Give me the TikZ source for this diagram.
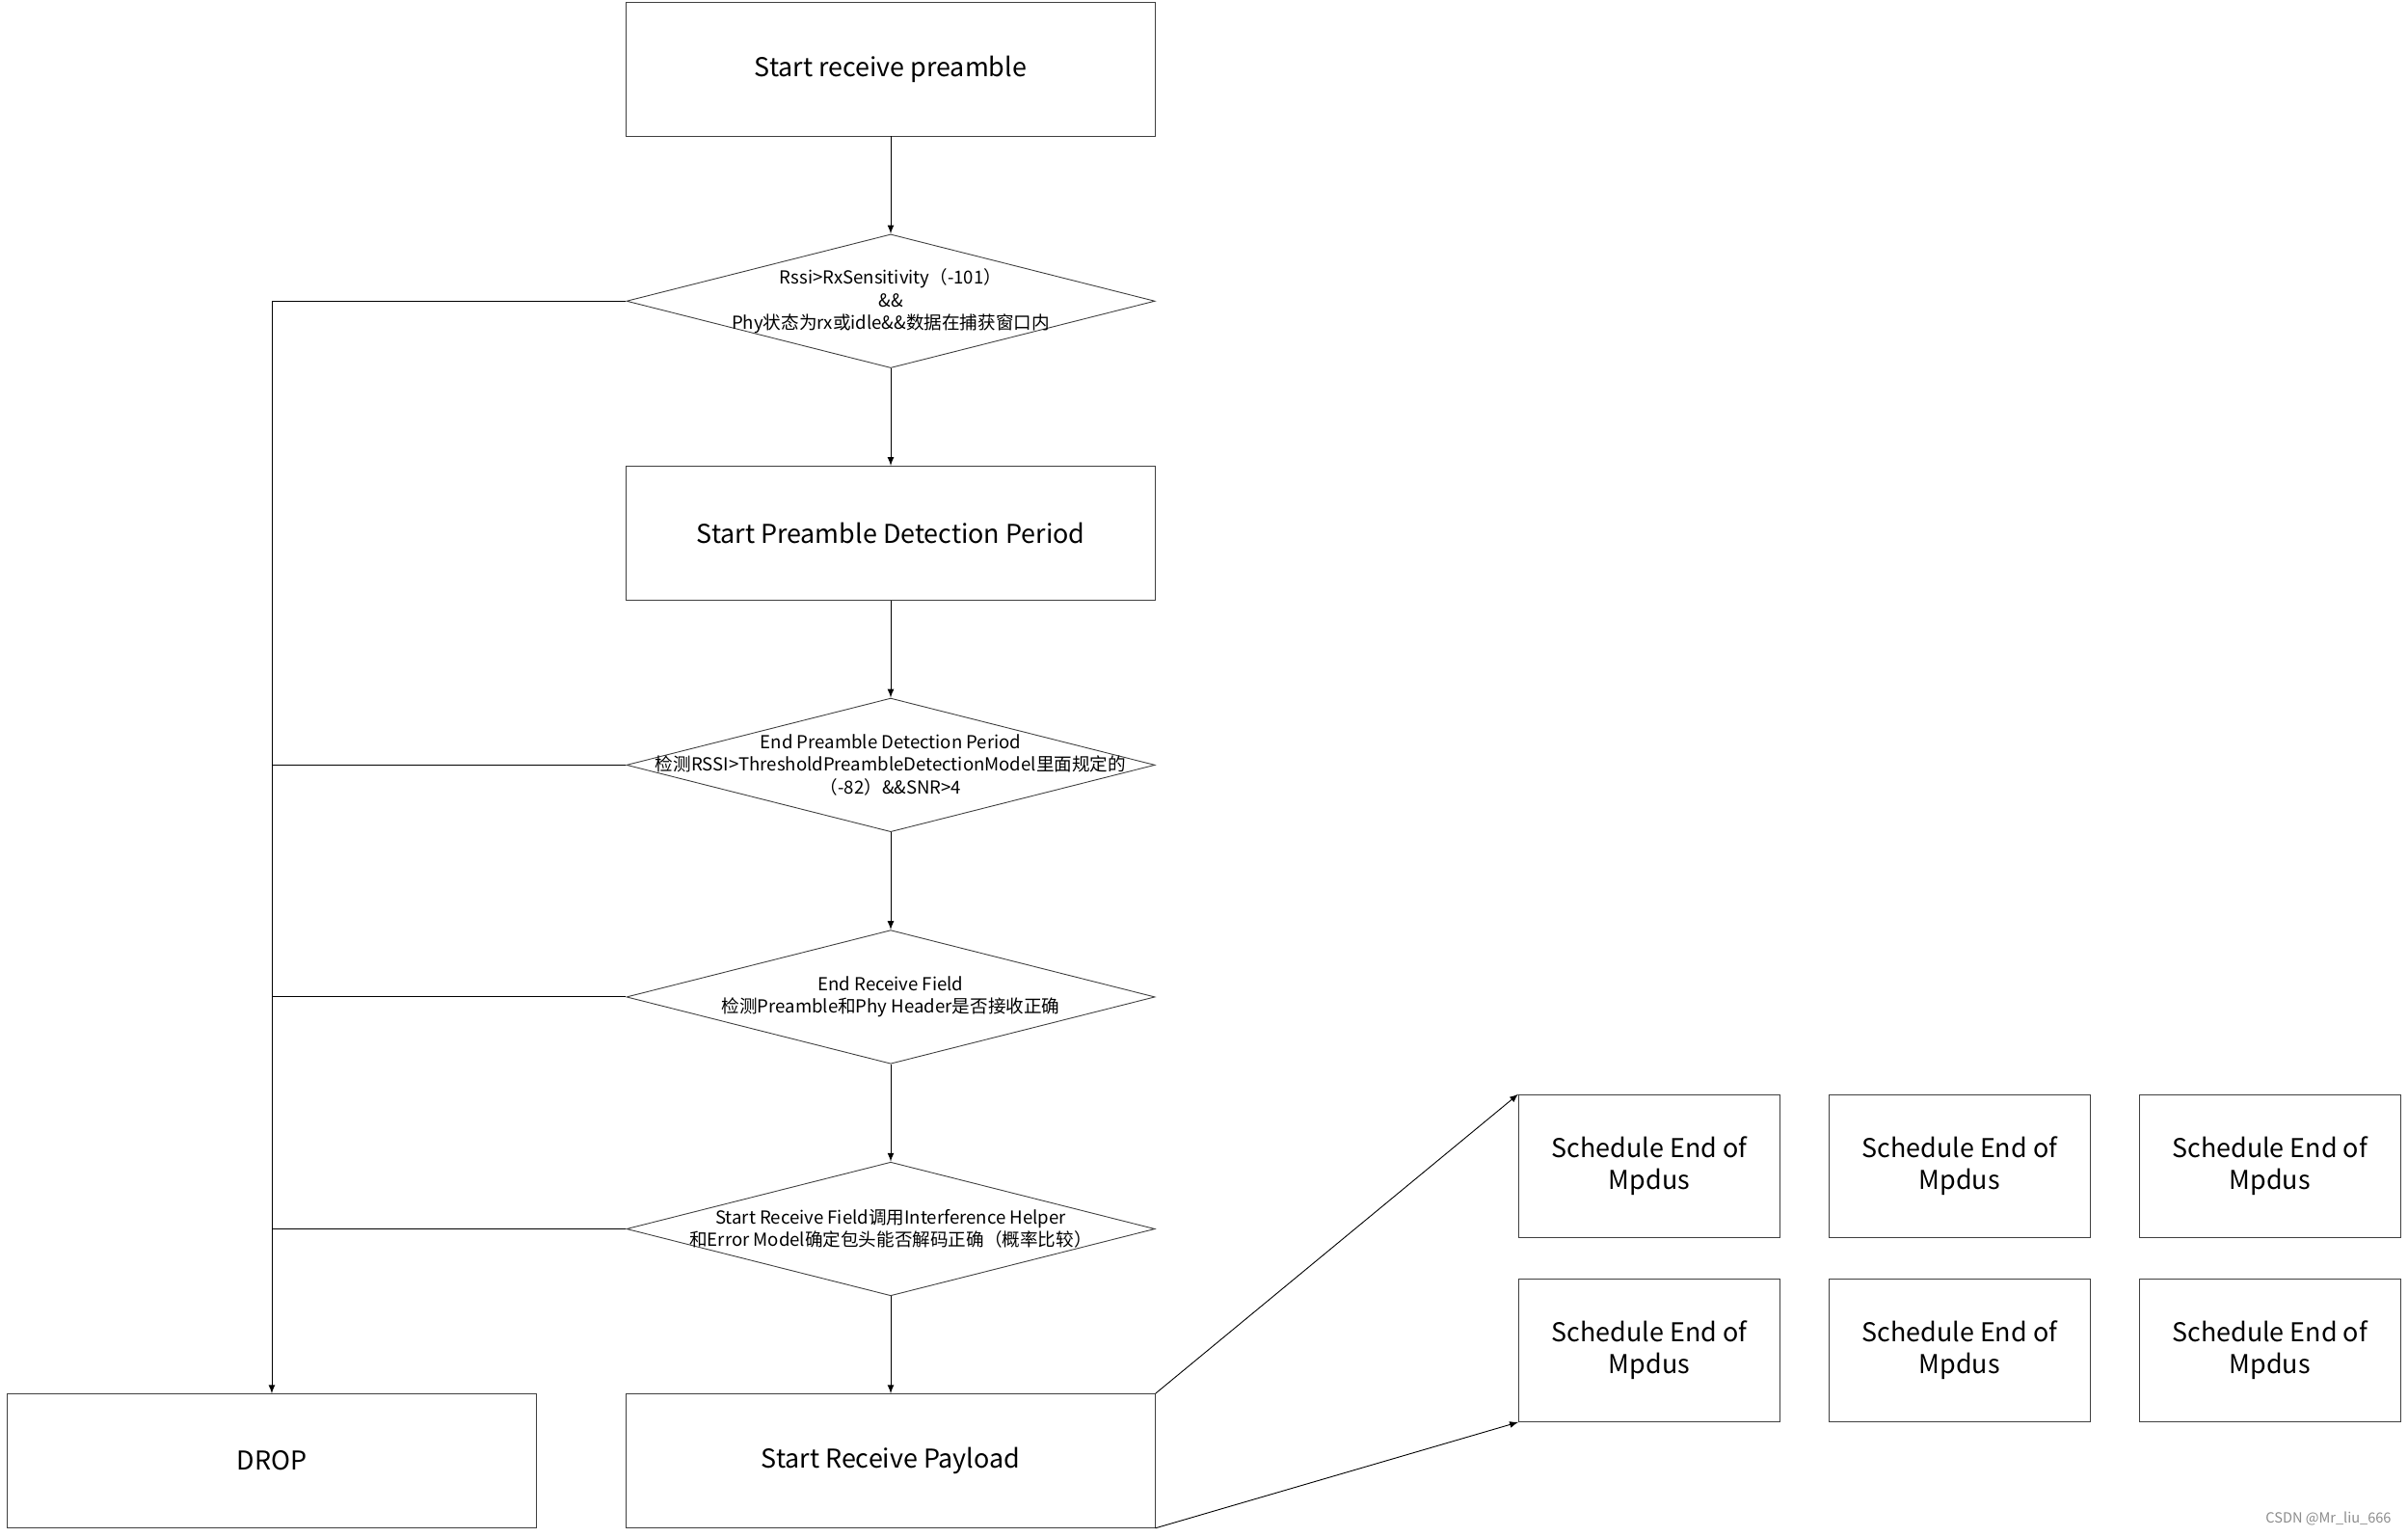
\documentclass[tikz,border=0pt]{standalone}
\usepackage{fontspec}
\setmainfont{Noto Sans CJK SC}
\usepackage{tikz}
\usetikzlibrary{shapes.geometric}
\tikzstyle{process}  = [rectangle,draw=black!75,minimum width=8.6cm,minimum height=2.175cm,font=\fontsize{12}{14}\selectfont]
\tikzstyle{decision} = [diamond,draw=black!75,minimum width=8.6cm,minimum height=2.175cm,inner sep=0]
\tikzstyle{dtext}    = [align=center,font=\fontsize{8.3}{10.5}\selectfont]
\tikzstyle{mpdu}     = [rectangle,draw=black!75,minimum width=4.25cm,minimum height=2.325cm,align=center,font=\fontsize{12}{15}\selectfont]
\tikzstyle{flow}     = [draw=black,-latex]

\begin{document}
\begin{tikzpicture}[x=0.025cm,y=-0.025cm]
    \useasboundingbox (0,0) rectangle (1568,1000);

    % main column
    \node(start)[process] at (580,45) {Start receive preamble};
    \node(d1)[decision] at (580,196) {};
    \node[dtext] at (d1) {Rssi>RxSensitivity（-101）\\\&\&\\Phy状态为rx或idle\&\&数据在捕获窗口内};
    \node(detect)[process] at (580,347) {Start Preamble Detection Period};
    \node(d2)[decision] at (580,498) {};
    \node[dtext] at (d2) {End Preamble Detection Period\\检测RSSI>ThresholdPreambleDetectionModel里面规定的\\（-82）\&\&SNR>4};
    \node(d3)[decision] at (580,649) {};
    \node[dtext] at (d3) {End Receive Field\\检测Preamble和Phy Header是否接收正确};
    \node(d4)[decision] at (580,800) {};
    \node[dtext] at (d4) {Start Receive Field调用Interference Helper\\和Error Model确定包头能否解码正确（概率比较）};
    \node(payload)[process] at (580,951) {Start Receive Payload};
    \node(drop)[process] at (177,951) {DROP};

    % Mpdus
    \node(m11)[mpdu] at (1074,759) {Schedule End of\\Mpdus};
    \node(m12)[mpdu] at (1276,759) {Schedule End of\\Mpdus};
    \node(m13)[mpdu] at (1478,759) {Schedule End of\\Mpdus};
    \node(m21)[mpdu] at (1074,879) {Schedule End of\\Mpdus};
    \node(m22)[mpdu] at (1276,879) {Schedule End of\\Mpdus};
    \node(m23)[mpdu] at (1478,879) {Schedule End of\\Mpdus};

    % connectors
    \draw[flow] (start) -- (d1);
    \draw[flow] (d1) -- (detect);
    \draw[flow] (detect) -- (d2);
    \draw[flow] (d2) -- (d3);
    \draw[flow] (d3) -- (d4);
    \draw[flow] (d4) -- (payload);
    \draw[flow] (d1.west) -| (drop.north);
    \draw (d2.west) -- (177,498);
    \draw (d3.west) -- (177,649);
    \draw (d4.west) -- (177,800);
    \draw[flow] (payload.north east) -- (m11.north west);
    \draw[flow] (payload.south east) -- (m21.south west);

    \node(mark)[anchor=south east,text=black!45,font=\fontsize{6.5}{8}\selectfont] at (1562,998) {CSDN @Mr\_liu\_666};
\end{tikzpicture}
\end{document}
